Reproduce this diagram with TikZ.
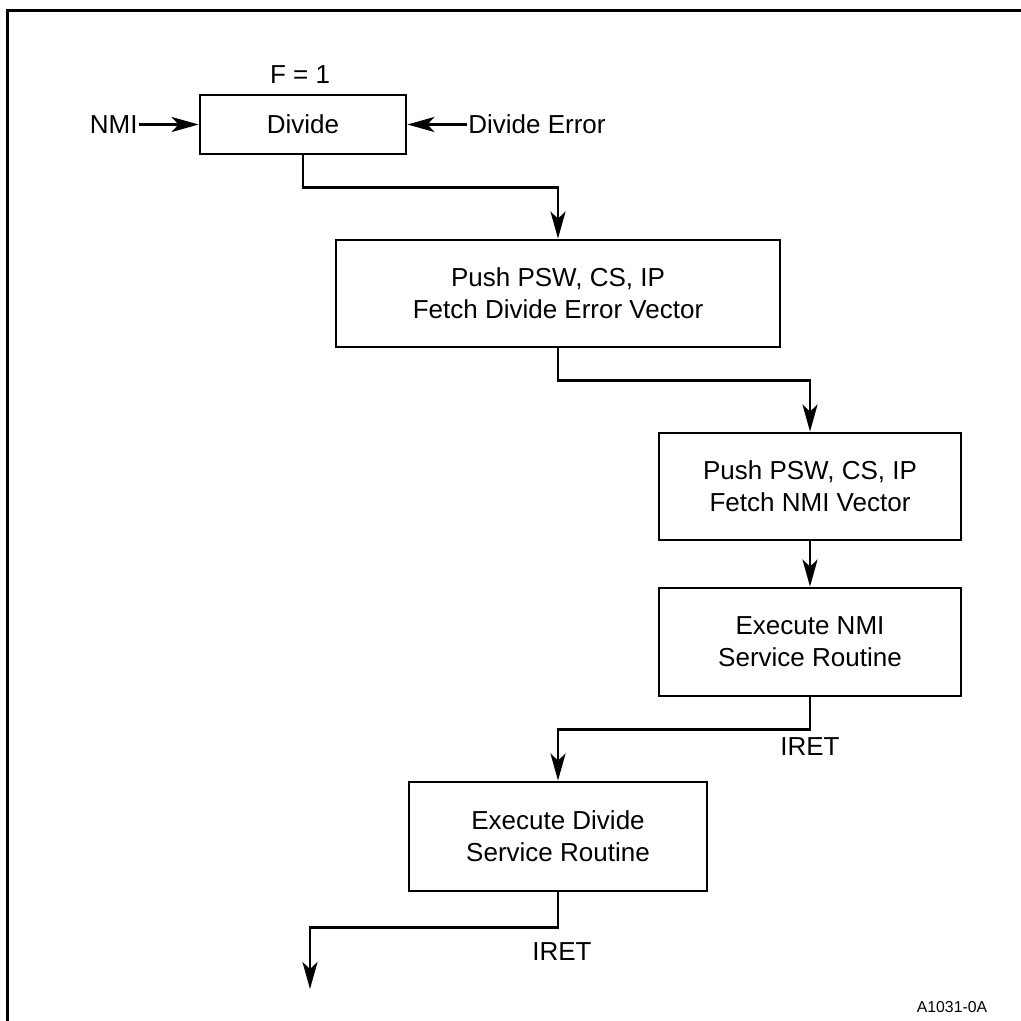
\documentclass[tikz,border=0pt]{standalone}
\usepackage{fontspec}
\setmainfont{Liberation Sans}
\usetikzlibrary{arrows.meta}

\begin{document}
\begin{tikzpicture}[x=0.5pt, y=-0.5pt, line width=1.4pt,
box/.style={draw, inner sep=0pt, align=center, font=\fontsize{13}{15.85}\selectfont},
lbl/.style={inner sep=0pt, font=\fontsize{13}{15.85}\selectfont},
flow/.style={-{Stealth[length=13.5pt, width=7.5pt, inset=3.5pt]}}]

\useasboundingbox (0,0) rectangle (1021,1021);

% frame
\draw[line width=1.5pt] (7.5,1021) -- (7.5,10.5) -- (1021,10.5);

\node[box, minimum width=103pt, minimum height=29.5pt] (divide) at (303,124.5) {Divide};
\node[lbl] (fone) at (300,75) {F = 1};
\node[lbl, anchor=east] (nmi) at (139,124.5) {NMI};
\node[lbl, anchor=west] (diverr) at (467,124.5) {Divide Error};

\node[box, minimum width=222pt, minimum height=53.5pt] (pushde) at (558,293.5) {Push PSW, CS, IP\\Fetch Divide Error Vector};
\node[box, minimum width=151pt, minimum height=53.5pt] (pushnmi) at (810,486.5) {Push PSW, CS, IP\\Fetch NMI Vector};
\node[box, minimum width=151pt, minimum height=54pt] (execnmi) at (810,642) {Execute NMI\\Service Routine};
\node[box, minimum width=149pt, minimum height=54.5pt] (execdiv) at (558,836.5) {Execute Divide\\Service Routine};

\draw[flow] (nmi) -- (divide);
\draw[flow] (diverr) -- (divide);
\draw[flow] (divide.south) -- ++(0,32) -| (pushde.north);
\draw[flow] (pushde.south) -- ++(0,32) -| (pushnmi.north);
\draw[flow] (pushnmi) -- (execnmi);

\draw[flow] (execnmi.south) -- ++(0,32) coordinate (turnnmi) -| (execdiv.north);
\node[lbl, anchor=north] (iretnmi) at ([yshift=-3.5pt]turnnmi) {IRET};

\coordinate (exit) at (310,989);
\draw[flow] (execdiv.south) -- ++(0,35) coordinate (turndiv) -| (exit);
\node[lbl, anchor=north] (iretdiv) at ([xshift=2pt, yshift=-7pt]turndiv) {IRET};

\node[inner sep=0pt, font=\fontsize{7.9}{9}\selectfont] (figid) at (952,1007) {A1031-0A};

\end{tikzpicture}
\end{document}
